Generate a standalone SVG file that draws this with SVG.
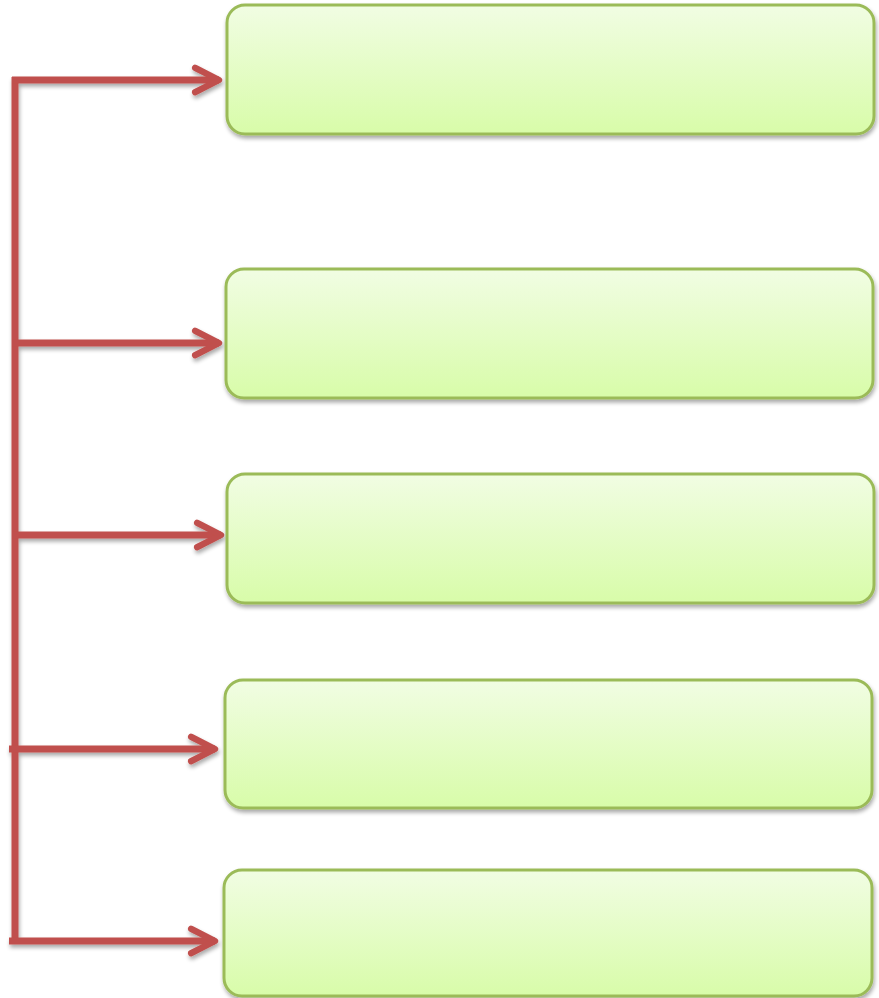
<svg xmlns="http://www.w3.org/2000/svg" width="879" height="998" viewBox="0 0 879 998">
<defs>
<linearGradient id="g" x1="0" y1="0" x2="0" y2="1">
<stop offset="0" stop-color="#f1fde3"/>
<stop offset="1" stop-color="#d8fca9"/>
</linearGradient>
<filter id="sh" x="-5%" y="-10%" width="110%" height="125%">
<feGaussianBlur in="SourceAlpha" stdDeviation="2"/>
<feOffset dx="1" dy="3" result="b"/>
<feComponentTransfer><feFuncA type="linear" slope="0.35"/></feComponentTransfer>
<feMerge><feMergeNode/><feMergeNode in="SourceGraphic"/></feMerge>
</filter>
<marker id="ah" viewBox="0 0 10 10" refX="8.6" refY="5" markerWidth="4.6" markerHeight="4.6" markerUnits="strokeWidth" orient="auto">
<path d="M1.2,1.2 L8.6,5 L1.2,8.8" fill="none" stroke="#c0504d" stroke-width="2" stroke-linecap="round" stroke-linejoin="round"/>
</marker>
</defs>
<style>
.box{fill:url(#g);stroke:#9bbb59;stroke-width:3}
.ln{fill:none;stroke:#c0504d;stroke-width:7}
</style>
<g id="connectors" filter="url(#sh)">
<line class="ln" x1="15" y1="77" x2="15" y2="944"/>
<line class="ln" x1="12" y1="80" x2="219" y2="80" marker-end="url(#ah)"/>
<line class="ln" x1="12" y1="343" x2="219" y2="343" marker-end="url(#ah)"/>
<line class="ln" x1="12" y1="535" x2="221" y2="535" marker-end="url(#ah)"/>
<line class="ln" x1="9" y1="749" x2="215" y2="749" marker-end="url(#ah)"/>
<line class="ln" x1="9" y1="941" x2="215" y2="941" marker-end="url(#ah)"/>
</g>
<g id="node1" filter="url(#sh)"><rect class="box" x="227" y="5" width="647" height="129" rx="18"/></g>
<g id="node2" filter="url(#sh)"><rect class="box" x="226" y="269" width="647" height="129" rx="18"/></g>
<g id="node3" filter="url(#sh)"><rect class="box" x="227" y="474" width="647" height="129" rx="18"/></g>
<g id="node4" filter="url(#sh)"><rect class="box" x="225" y="680" width="647" height="128" rx="18"/></g>
<g id="node5" filter="url(#sh)"><rect class="box" x="224" y="870" width="648" height="126" rx="18"/></g>
</svg>
